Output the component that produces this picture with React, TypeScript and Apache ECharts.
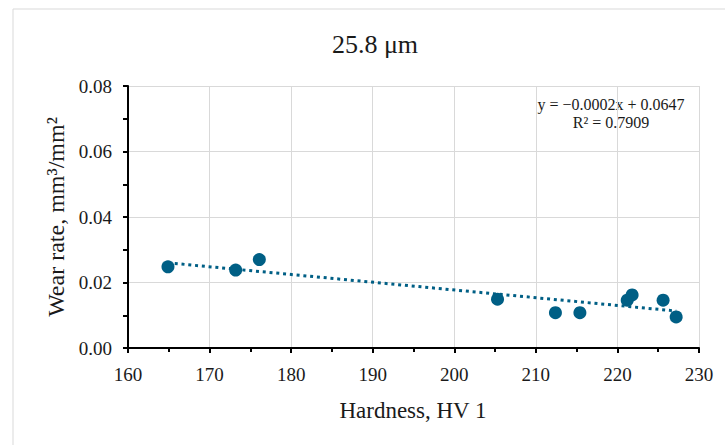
import React, { useEffect, useRef } from "react";
import * as echarts from "echarts";

const hardness = [164.9, 173.2, 176.1, 205.3, 212.4, 215.4, 221.2, 221.8, 225.6, 227.2];
const wearRate = [0.0248, 0.0238, 0.027, 0.0149, 0.0108, 0.0108, 0.0146, 0.0162, 0.0146, 0.0095];

const chartTitle = "25.8 μm";
const xTitle = "Hardness, HV 1";
const yTitle = "Wear rate, mm³/mm²";
const equationText = "y = −0.0002x + 0.0647";
const r2Text = "R² = 0.7909";
const xTicks = { min: 160, max: 230, interval: 10 };
const yTicks = { min: 0, max: 0.08, interval: 0.02 };

const COLOR = "#005f85";
const FONT = "'Liberation Serif', 'DejaVu Serif', serif";
const TEXT = "#1a1a1a";

function fitLine(xs: number[], ys: number[]) {
  const n = xs.length;
  const mx = xs.reduce((a, b) => a + b, 0) / n;
  const my = ys.reduce((a, b) => a + b, 0) / n;
  let sxy = 0;
  let sxx = 0;
  for (let i = 0; i < n; i++) {
    sxy += (xs[i] - mx) * (ys[i] - my);
    sxx += (xs[i] - mx) * (xs[i] - mx);
  }
  const slope = sxy / sxx;
  const intercept = my - slope * mx;
  const x0 = Math.min(...xs);
  const x1 = Math.max(...xs);
  return [
    [x0, intercept + slope * x0],
    [x1, intercept + slope * x1],
  ];
}

function label(text: string, x: number, y: number, size: number, rotation = 0) {
  return {
    type: "text",
    x,
    y,
    rotation,
    style: {
      text,
      fill: TEXT,
      fontFamily: FONT,
      fontSize: size,
      align: "center",
      verticalAlign: "middle",
    },
  };
}

export default function App() {
  const ref = useRef<HTMLDivElement>(null);

  useEffect(() => {
    document.body.style.margin = "0";
    if (!ref.current) return;
    const chart = echarts.init(ref.current, undefined, { renderer: "svg" });
    const trend = fitLine(hardness, wearRate);

    chart.setOption({
      animation: false,
      backgroundColor: "#ffffff",
      textStyle: { fontFamily: FONT },
      grid: { left: 128, right: 26, top: 86, bottom: 97, containLabel: false },
      xAxis: {
        type: "value",
        min: xTicks.min,
        max: xTicks.max,
        interval: xTicks.interval,
        axisLine: { show: true, onZero: false, lineStyle: { color: "#000", width: 2 } },
        axisTick: { show: true, length: 5, lineStyle: { color: "#000", width: 2 } },
        minorTick: { show: true, splitNumber: 2, length: 4, lineStyle: { color: "#000", width: 2 } },
        splitLine: { show: true, lineStyle: { color: "#d9d9d9", width: 1 } },
        axisLabel: {
          color: TEXT,
          fontFamily: FONT,
          fontSize: 19,
          margin: 17,
        },
      },
      yAxis: {
        type: "value",
        min: yTicks.min,
        max: yTicks.max,
        interval: yTicks.interval,
        axisLine: { show: true, lineStyle: { color: "#000", width: 2 } },
        axisTick: { show: true, length: 5, lineStyle: { color: "#000", width: 2 } },
        minorTick: { show: true, splitNumber: 2, length: 5, lineStyle: { color: "#000", width: 2 } },
        splitLine: { show: true, lineStyle: { color: "#d9d9d9", width: 1 } },
        axisLabel: {
          color: TEXT,
          fontFamily: FONT,
          fontSize: 19,
          margin: 16,
          formatter: (v: number) => v.toFixed(2),
        },
      },
      graphic: [
        {
          type: "rect",
          silent: true,
          z: -10,
          shape: { x: 13, y: 9, width: 900, height: 900 },
          style: { fill: "none", stroke: "#d9d9d9", lineWidth: 1 },
        },
        label(chartTitle, 375, 44, 26),
        label(xTitle, 413, 410, 23),
        label(yTitle, 56, 217, 24, Math.PI / 2),
        label(equationText, 611, 104, 16),
        label(r2Text, 611, 122, 16),
      ],
      series: [
        {
          type: "line",
          data: trend,
          showSymbol: false,
          symbol: "none",
          silent: true,
          z: 1,
          lineStyle: { color: COLOR, width: 3, type: [3, 3.8] },
        },
        {
          type: "scatter",
          data: hardness.map((h, i) => [h, wearRate[i]]),
          symbol: "circle",
          symbolSize: 13,
          z: 2,
          itemStyle: { color: COLOR, opacity: 1 },
        },
      ],
    });

    return () => chart.dispose();
  }, []);

  return (
    <div
      ref={ref}
      style={{ position: "absolute", left: 0, top: 0, width: 725, height: 445 }}
    />
  );
}
